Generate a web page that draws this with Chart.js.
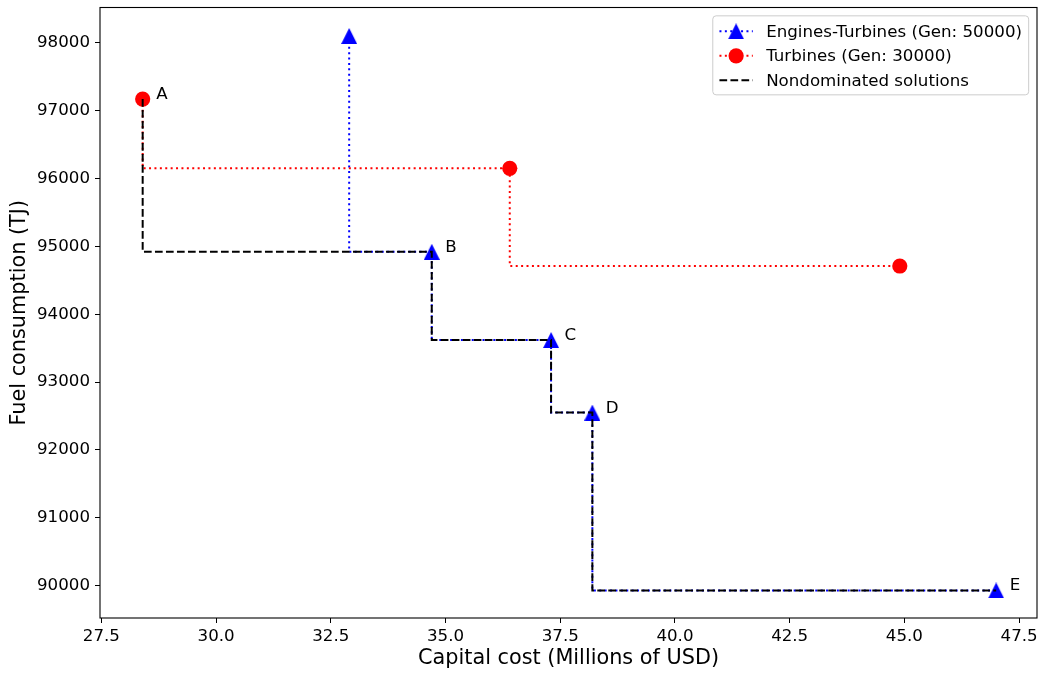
<!DOCTYPE html>
<html>
<head>
<meta charset="utf-8">
<title>Capital cost vs fuel consumption</title>
<script src="https://cdn.jsdelivr.net/npm/chart.js@4.4.1/dist/chart.umd.min.js"></script>
<style>
  html, body { margin: 0; padding: 0; background: #ffffff; }
  #wrap { width: 1043px; height: 675px; }
</style>
</head>
<body>
<div id="wrap"><canvas id="chart" width="1043" height="675"></canvas></div>
<script>
// Engines-Turbines front (generation 50000)
const engCost = [32.9, 34.7, 37.3, 38.2, 47.0];
const engFuel = [98100, 94920, 93620, 92550, 89930];

// Turbines-only front (generation 30000)
const turbCost = [28.4, 36.4, 44.9];
const turbFuel = [97170, 96150, 94710];

// Combined nondominated set
const ndCost = [28.4, 34.7, 37.3, 38.2, 47.0];
const ndFuel = [97170, 94920, 93620, 92550, 89930];
const ndNames = ['A', 'B', 'C', 'D', 'E'];

// Axis ticks and limits
const xTicks = [27.5, 30.0, 32.5, 35.0, 37.5, 40.0, 42.5, 45.0, 47.5];
const yTicks = [90000, 91000, 92000, 93000, 94000, 95000, 96000, 97000, 98000];
const xRange = [27.47, 47.89];
const yRange = [89524, 98519];

const FONT = '"DejaVu Sans", "Liberation Sans", sans-serif';
const TICK_SIZE = 16.67;
const LABEL_SIZE = 20.8;

function toPoints(xs, ys) {
  return xs.map((x, i) => ({ x: x, y: ys[i] }));
}

// Upward triangle marker, as wide as it is tall
function triangleMarker(size, color) {
  const c = document.createElement('canvas');
  c.width = size; c.height = size;
  const g = c.getContext('2d');
  g.fillStyle = color;
  g.beginPath();
  g.moveTo(size / 2, 0);
  g.lineTo(size, size);
  g.lineTo(0, size);
  g.closePath();
  g.fill();
  return c;
}
const triBlue = triangleMarker(16, '#0000ff');

// Full rectangular frame around the plot area
const framePlugin = {
  id: 'frame',
  afterDatasetsDraw(chart) {
    const { ctx, chartArea: a } = chart;
    ctx.save();
    ctx.strokeStyle = '#000000';
    ctx.lineWidth = 1.1;
    ctx.strokeRect(a.left, a.top, a.right - a.left, a.bottom - a.top);
    ctx.restore();
  }
};

// Letter tags next to the nondominated solutions
const tagPlugin = {
  id: 'tags',
  afterDatasetsDraw(chart) {
    const idx = chart.data.datasets.findIndex(d => d.tagNames);
    if (idx < 0) return;
    const meta = chart.getDatasetMeta(idx);
    const names = chart.data.datasets[idx].tagNames;
    const ctx = chart.ctx;
    ctx.save();
    ctx.fillStyle = '#000000';
    ctx.font = TICK_SIZE + 'px ' + FONT;
    ctx.textAlign = 'left';
    ctx.textBaseline = 'alphabetic';
    meta.data.forEach((pt, i) => {
      ctx.fillText(names[i], pt.x + 13.5, pt.y);
    });
    ctx.restore();
  }
};

// Boxed legend in the upper-right corner of the plot area
const boxLegendPlugin = {
  id: 'boxLegend',
  afterDraw(chart) {
    const { ctx, chartArea: a } = chart;
    const fs = TICK_SIZE;
    const sets = chart.data.datasets;
    ctx.save();
    ctx.font = fs + 'px ' + FONT;
    const textW = Math.max(...sets.map(d => ctx.measureText(d.label).width));
    const pad = 0.4 * fs, handleLen = 2 * fs, textPad = 0.8 * fs;
    const rowH = 24.5;
    const w = pad * 2 + handleLen + textPad + textW;
    const h = 79;
    const x1 = a.right - 0.5 * fs;
    const x0 = x1 - w;
    const y0 = a.top + 0.5 * fs;
    const r = 3.3;

    ctx.beginPath();
    ctx.moveTo(x0 + r, y0);
    ctx.lineTo(x0 + w - r, y0);
    ctx.arcTo(x0 + w, y0, x0 + w, y0 + r, r);
    ctx.lineTo(x0 + w, y0 + h - r);
    ctx.arcTo(x0 + w, y0 + h, x0 + w - r, y0 + h, r);
    ctx.lineTo(x0 + r, y0 + h);
    ctx.arcTo(x0, y0 + h, x0, y0 + h - r, r);
    ctx.lineTo(x0, y0 + r);
    ctx.arcTo(x0, y0, x0 + r, y0, r);
    ctx.closePath();
    ctx.fillStyle = 'rgba(255,255,255,0.8)';
    ctx.fill();
    ctx.strokeStyle = '#cccccc';
    ctx.lineWidth = 1;
    ctx.stroke();

    sets.forEach((d, i) => {
      const cy = y0 + 15.5 + i * rowH;
      const hx0 = x0 + pad, hx1 = hx0 + handleLen, hc = (hx0 + hx1) / 2;
      ctx.save();
      ctx.strokeStyle = d.borderColor;
      ctx.lineWidth = d.borderWidth;
      ctx.setLineDash(d.borderDash || []);
      ctx.beginPath();
      ctx.moveTo(hx0, cy);
      ctx.lineTo(hx1, cy);
      ctx.stroke();
      ctx.restore();
      if (d.pointRadius > 0) {
        if (d.pointStyle instanceof HTMLCanvasElement) {
          ctx.drawImage(d.pointStyle, hc - d.pointStyle.width / 2, cy - d.pointStyle.height / 2);
        } else {
          ctx.beginPath();
          ctx.arc(hc, cy, d.pointRadius, 0, Math.PI * 2);
          ctx.fillStyle = d.pointBackgroundColor;
          ctx.fill();
        }
      }
      ctx.fillStyle = '#000000';
      ctx.textAlign = 'left';
      ctx.textBaseline = 'middle';
      ctx.fillText(d.label, hx1 + textPad, cy + 1);
    });
    ctx.restore();
  }
};

Chart.defaults.font.family = FONT;
Chart.defaults.color = '#000000';

new Chart(document.getElementById('chart'), {
  type: 'line',
  data: {
    datasets: [
      {
        label: 'Engines-Turbines (Gen: 50000)',
        data: toPoints(engCost, engFuel),
        stepped: 'after',
        borderColor: '#0000ff',
        borderWidth: 2,
        borderDash: [2, 3.4],
        pointStyle: triBlue,
        pointRadius: 8,
        pointBackgroundColor: '#0000ff',
        pointBorderWidth: 0,
        fill: false,
        order: 3
      },
      {
        label: 'Turbines (Gen: 30000)',
        data: toPoints(turbCost, turbFuel),
        stepped: 'after',
        borderColor: '#ff0000',
        borderWidth: 2,
        borderDash: [2, 3.4],
        pointStyle: 'circle',
        pointRadius: 7.6,
        pointBackgroundColor: '#ff0000',
        pointBorderWidth: 0,
        fill: false,
        order: 2
      },
      {
        label: 'Nondominated solutions',
        data: toPoints(ndCost, ndFuel),
        tagNames: ndNames,
        stepped: 'after',
        borderColor: '#000000',
        borderWidth: 2,
        borderDash: [7.7, 3.3],
        pointRadius: 0,
        fill: false,
        order: 1
      }
    ]
  },
  options: {
    responsive: false,
    animation: false,
    devicePixelRatio: 1,
    events: [],
    layout: { autoPadding: false, padding: { left: 0, top: 7.5, right: 6, bottom: 0 } },
    plugins: {
      legend: { display: false },
      tooltip: { enabled: false }
    },
    scales: {
      x: {
        type: 'linear',
        min: xRange[0],
        max: xRange[1],
        afterBuildTicks: s => { s.ticks = xTicks.map(v => ({ value: v })); },
        afterFit: s => { s.height = 57; s.paddingLeft = 0; s.paddingRight = 0; },
        ticks: {
          callback: v => Number(v).toFixed(1),
          font: { size: TICK_SIZE },
          color: '#000000',
          padding: 4,
          maxRotation: 0,
          autoSkip: false
        },
        grid: { display: true, drawOnChartArea: false, drawTicks: true, tickLength: 5, color: '#000000', lineWidth: 1 },
        border: { display: false },
        title: {
          display: true,
          text: 'Capital cost (Millions of USD)',
          font: { size: LABEL_SIZE },
          color: '#000000',
          padding: { top: 0, bottom: 4 }
        }
      },
      y: {
        type: 'linear',
        min: yRange[0],
        max: yRange[1],
        afterBuildTicks: s => { s.ticks = yTicks.map(v => ({ value: v })); },
        afterFit: s => { s.width = 100; s.paddingTop = 0; s.paddingBottom = 0; },
        ticks: {
          callback: v => String(v),
          font: { size: TICK_SIZE },
          color: '#000000',
          padding: 5,
          autoSkip: false
        },
        grid: { display: true, drawOnChartArea: false, drawTicks: true, tickLength: 5, color: '#000000', lineWidth: 1 },
        border: { display: false },
        title: {
          display: true,
          text: 'Fuel consumption (TJ)',
          font: { size: LABEL_SIZE },
          color: '#000000',
          padding: { top: 7, bottom: 0 }
        }
      }
    }
  },
  plugins: [framePlugin, tagPlugin, boxLegendPlugin]
});
</script>
</body>
</html>
